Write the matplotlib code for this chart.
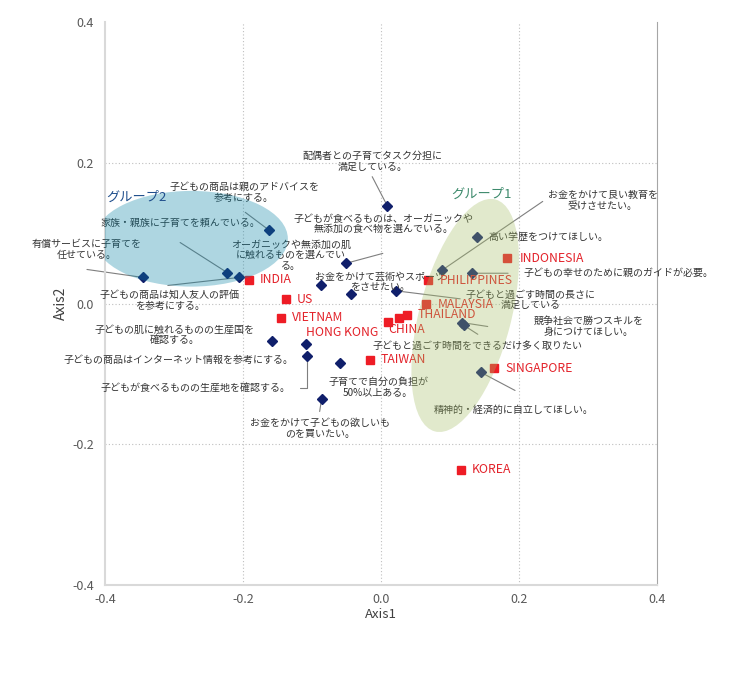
import matplotlib
matplotlib.use('Agg')
import matplotlib.pyplot as plt
from matplotlib.patches import Ellipse

plt.rcParams['font.family'] = ['Noto Sans CJK JP', 'DejaVu Sans']

# ---------------- data ----------------
countries = ['INDIA', 'US', 'VIETNAM', 'HONG KONG', 'CHINA', 'THAILAND', 'TAIWAN',
             'PHILIPPINES', 'MALAYSIA', 'INDONESIA', 'SINGAPORE', 'KOREA']
country_x = [-0.191, -0.138, -0.145, 0.026, 0.010, 0.038, -0.016,
             0.068, 0.065, 0.183, 0.164, 0.116]
country_y = [0.034, 0.006, -0.020, -0.021, -0.026, -0.016, -0.080,
             0.033, -0.001, 0.064, -0.092, -0.236]

items = [
    '配偶者との子育てタスク分担に\n満足している。',
    '子どもの商品は親のアドバイスを\n参考にする。',
    '家族・親族に子育てを頼んでいる。',
    '有償サービスに子育てを\n任せている。',
    '子どもの商品は知人友人の評価\nを参考にする。',
    '子どもが食べるものは、オーガニックや\n無添加の食べ物を選んでいる。',
    'オーガニックや無添加の肌\nに触れるものを選んでい\nる。',
    'お金をかけて芸術やスポーツ\nをさせたい。',
    '子どもと過ごす時間の長さに\n満足している',
    '子どもの肌に触れるものの生産国を\n確認する。',
    '子どもの商品はインターネット情報を参考にする。',
    '子どもが食べるものの生産地を確認する。',
    '子育てで自分の負担が\n50%以上ある。',
    'お金をかけて子どもの欲しいも\nのを買いたい。',
    '高い学歴をつけてほしい。',
    'お金をかけて良い教育を\n受けさせたい。',
    '子どもの幸せのために親のガイドが必要。',
    '競争社会で勝つスキルを\n身につけてほしい。',
    '子どもと過ごす時間をできるだけ多く取りたい',
    '精神的・経済的に自立してほしい。',
]
item_x = [0.009, -0.162, -0.223, -0.345, -0.206, -0.051, -0.087, -0.043, 0.022,
          -0.158, -0.109, -0.107, -0.059, -0.086,
          0.139, 0.088, 0.132, 0.117, 0.120, 0.145]
item_y = [0.139, 0.104, 0.044, 0.037, 0.037, 0.057, 0.026, 0.013, 0.018,
          -0.053, -0.058, -0.074, -0.084, -0.135,
          0.095, 0.047, 0.043, -0.027, -0.031, -0.098]

groups = ['グループ2', 'グループ1']
group_cx = [-0.275, 0.122]
group_cy = [0.092, -0.017]
group_w = [0.280, 0.133]
group_h = [0.136, 0.341]
group_angle = [0, -15]

# ---------------- layout (pixel offsets) ----------------
country_off = [(11, 0, 'left'), (11, 0, 'left'), (11, 0, 'left'), (-21, -14, 'right'),
               (0, -8, 'left'), (10, 0, 'left'), (11, 0, 'left'), (12, 0, 'left'),
               (12, 0, 'left'), (12, 0, 'left'), (11, 0, 'left'), (11, 0, 'left')]
item_text_off = [(-15, 44.5, 'center'), (-25, 38, 'center'), (-47, 50, 'center'),
                 (-56, 28, 'center'), (-69, -23.5, 'center'), (38, 39.5, 'center'),
                 (-30, 30, 'center'), (29, 12.5, 'center'), (134, -9, 'center'),
                 (-97, 6, 'center'), (-127, -16, 'center'), (-112, -32, 'center'),
                 (38, -24.5, 'center'), (-2, -30, 'center'), (11, 0, 'left'),
                 (161, 70, 'center'), (51, 0, 'left'), (127, -4, 'center'),
                 (14, -21, 'center'), (33, -37, 'center')]
item_line = [(-15, 29), (-24, 18), (-47, 30), (-56, 8), (-71, -8), (37, 10),
             None, None, (64, -8), None, None, 'elbow', None, (-2, -13), None,
             (101, 69), (36, 0), (26, -4), (14, -9), (34, -18)]

# ---------------- figure ----------------
W, H = 750, 680
fig = plt.figure(figsize=(W / 100, H / 100), dpi=100)
ax = fig.add_axes([105 / W, 1 - 585 / H, (657 - 105) / W, (585 - 22) / H])
ax.set_xlim(-0.4, 0.4)
ax.set_ylim(-0.4, 0.4)
ticks = [-0.4, -0.2, 0.0, 0.2, 0.4]
ax.set_xticks(ticks)
ax.set_yticks(ticks)
ax.set_xticklabels([f'{t:.1f}' for t in ticks])
ax.set_yticklabels([f'{t:.1f}' for t in ticks])
ax.tick_params(length=0, labelsize=9, labelcolor='#595959')
ax.tick_params(axis='x', pad=6)
ax.tick_params(axis='y', pad=8)
for t in [-0.2, 0.0, 0.2]:
    ax.axvline(t, color='#bfbfbf', lw=0.8, ls=(0, (1, 2)), zorder=0)
    ax.axhline(t, color='#bfbfbf', lw=0.8, ls=(0, (1, 2)), zorder=0)
ax.spines['top'].set_visible(False)
for s in ['left', 'bottom']:
    ax.spines[s].set_color('#d9d9d9')
    ax.spines[s].set_linewidth(1.5)
ax.spines['right'].set_color('#a6a6a6')
ax.spines['right'].set_linewidth(0.8)
ax.set_xlabel('Axis1', fontsize=9.5, color='#404040', labelpad=1)
ax.set_ylabel('Axis2', fontsize=10, color='#404040', labelpad=3)

text_color = '#333333'
line_color = '#7f7f7f'

# attribute markers
ax.plot(item_x, item_y, ls='none', marker='D', ms=5, color='#101f6b', zorder=3)
for lab, x, y, (dx, dy, ha), ln in zip(items, item_x, item_y, item_text_off, item_line):
    ax.annotate(lab, xy=(x, y), xytext=(dx, dy), textcoords='offset pixels',
                ha=ha, va='center', fontsize=7.2, color=text_color,
                multialignment='center', linespacing=1.1, zorder=4)
    if ln == 'elbow':
        ax.annotate('', xy=(x, y), xytext=(-7, -32), textcoords='offset pixels',
                    arrowprops=dict(arrowstyle='-', color=line_color, lw=0.8,
                                    shrinkA=0, shrinkB=3,
                                    connectionstyle='angle,angleA=0,angleB=90,rad=0'),
                    zorder=2)
    elif ln is not None:
        ax.annotate('', xy=(x, y), xytext=ln, textcoords='offset pixels',
                    arrowprops=dict(arrowstyle='-', color=line_color, lw=0.8,
                                    shrinkA=0, shrinkB=2), zorder=2)

# country markers
ax.plot(country_x, country_y, ls='none', marker='s', ms=6, color='#ee1c25', zorder=3)
for lab, x, y, (dx, dy, ha) in zip(countries, country_x, country_y, country_off):
    ax.annotate(lab, xy=(x, y), xytext=(dx, dy), textcoords='offset pixels',
                ha=ha, va='center', fontsize=8.8, color='#e3222a', zorder=4)

# group ellipses (semi-transparent, on top)
group_colors = ['#0a84a6', '#a4bd65']
group_text_colors = ['#1f4e8c', '#3d8a6c']
group_label_off = [(-0.080, 0.059), (0.023, 0.172)]
for cx, cy, w, h, ang, c, name, tc, (ox, oy) in zip(group_cx, group_cy, group_w, group_h,
                                                      group_angle, group_colors, groups,
                                                      group_text_colors, group_label_off):
    ax.add_patch(Ellipse((cx, cy), w, h, angle=ang, facecolor=c, edgecolor='none',
                         alpha=0.33, zorder=5))
    ax.text(cx + ox, cy + oy, name, ha='center', va='center', fontsize=9.5,
            color=tc, zorder=6)

fig.savefig('out.png', dpi=100)
